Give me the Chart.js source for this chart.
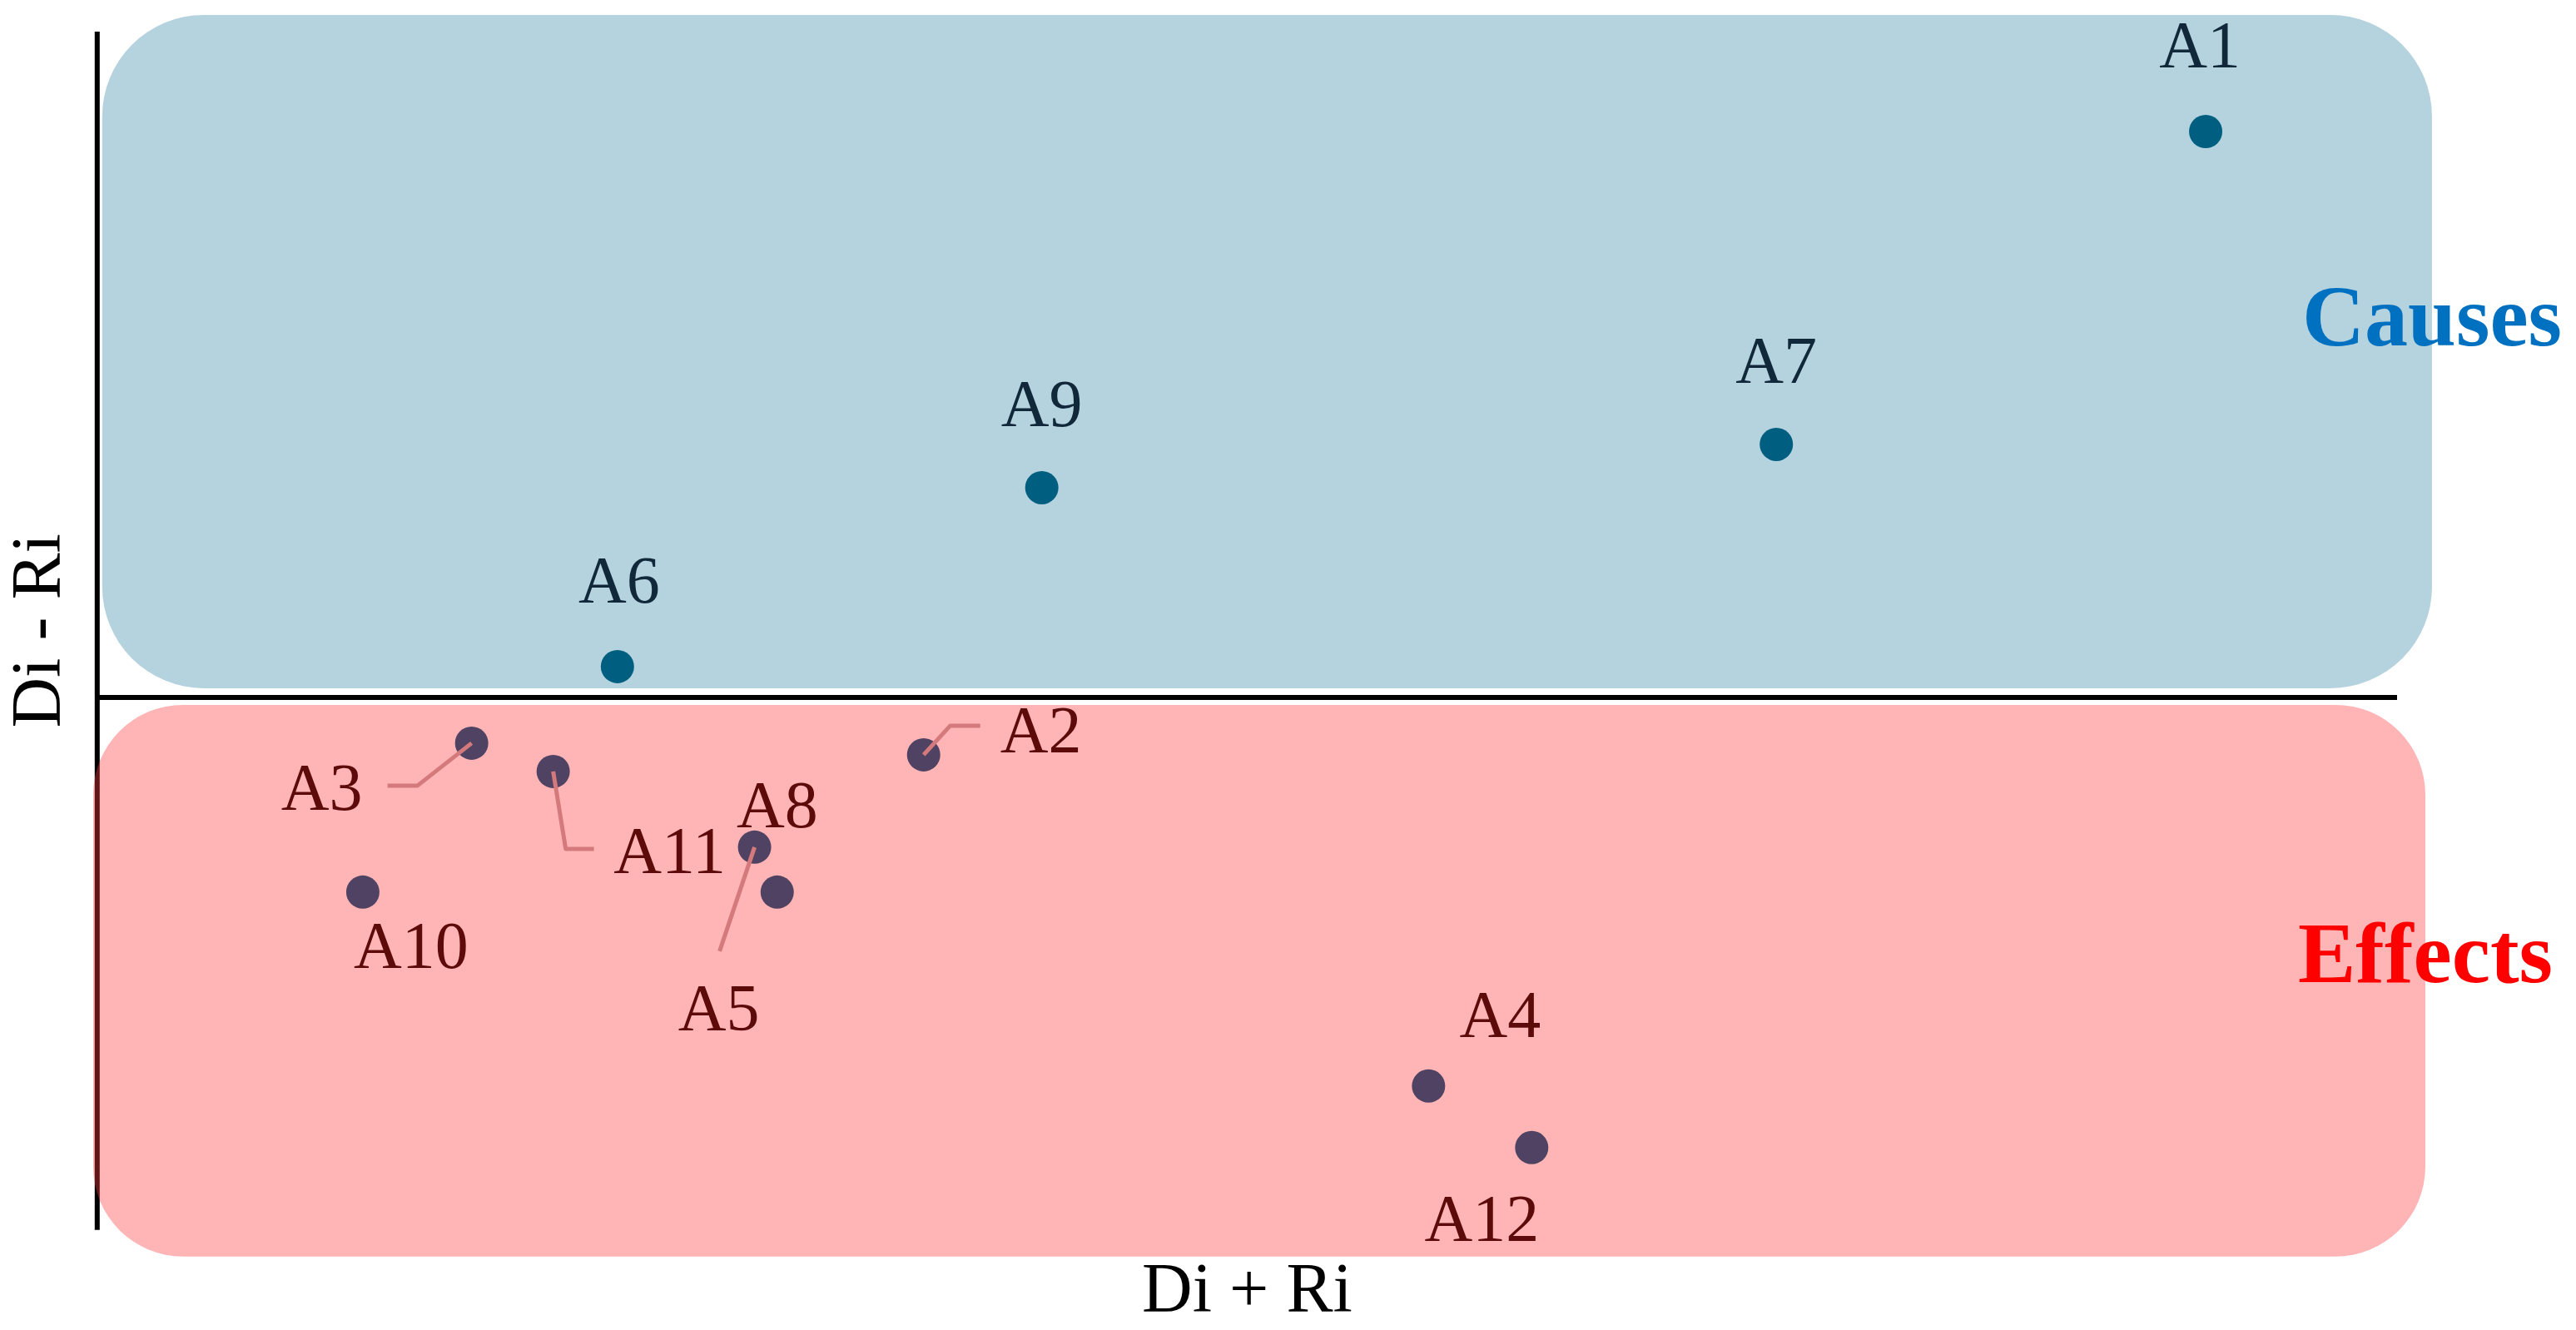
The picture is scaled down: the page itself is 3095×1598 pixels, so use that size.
<!DOCTYPE html>
<html>
<head>
<meta charset="utf-8">
<title>Di + Ri / Di - Ri</title>
<script src="https://cdn.jsdelivr.net/npm/chart.js@4.4.1/dist/chart.umd.min.js"></script>
<style>
    html, body { margin: 0; padding: 0; background: #ffffff; }
    #wrap { width: 3095px; height: 1598px; }
</style>
</head>
<body>
<div id="wrap"><canvas id="dematelChart"></canvas></div>
<script>
// ===== DATA =====
const factors   = ['A1', 'A2', 'A3', 'A4', 'A5', 'A6', 'A7', 'A8', 'A9', 'A10', 'A11', 'A12'];
const diPlusRi  = [9.335, 5.483, 4.125, 7.000, 4.975, 4.563, 8.045, 5.043, 5.838, 3.798, 4.370, 7.310];
const diMinusRi = [0.680, -0.069, -0.055, -0.467, -0.180, 0.037, 0.304, -0.234, 0.252, -0.234, -0.089, -0.541];
const xRange = [3.0, 9.91];
const yRange = [-0.64, 0.80];

// ===== LAYOUT (label offsets in px, relative to the point) =====
const SERIF = '"Liberation Serif", "Times New Roman", serif';
const defaultLabel = { dx: 0, dy: -74 };
const labelLayout = {
    A1:  { dx: -7,  dy: -77 },
    A2:  { dx: 141, dy: -3,  leader: [[32, -35], [68, -35]] },
    A3:  { dx: -180, dy: 80, leader: [[-65, 51], [-101, 51]] },
    A4:  { dx: 86,  dy: -59 },
    A5:  { dx: -43, dy: 220, leader: [[-42, 125]] },
    A6:  { dx: 2,   dy: -77 },
    A8:  { dx: 0,   dy: -78 },
    A10: { dx: 58,  dy: 91 },
    A11: { dx: 140, dy: 122, leader: [[15, 93], [49, 93]] },
    A12: { dx: -60, dy: 112 }
};

const zones = [
    { name: 'Causes',  x0: 3.015, x1: 10.015, y0: 0.011,  y1: 0.820,  radius: 122,
      fill: '#b5d3de', text: '#0070c0', textY: 0.423 },
    { name: 'Effects', x0: 2.988, x1: 9.995,  y0: -0.672, y1: -0.009, radius: 108,
      fill: 'rgba(255, 60, 62, 0.38)', text: '#ff0000', textY: -0.342 }
];

const causeIdx  = factors.map((f, i) => i).filter(i => diMinusRi[i] >= 0);
const effectIdx = factors.map((f, i) => i).filter(i => diMinusRi[i] < 0);
const toPoints = idx => idx.map(i => ({ x: diPlusRi[i], y: diMinusRi[i], name: factors[i] }));

function roundedRect(ctx, l, t, r, b, rad) {
    ctx.beginPath();
    ctx.moveTo(l + rad, t);
    ctx.lineTo(r - rad, t);
    ctx.arcTo(r, t, r, t + rad, rad);
    ctx.lineTo(r, b - rad);
    ctx.arcTo(r, b, r - rad, b, rad);
    ctx.lineTo(l + rad, b);
    ctx.arcTo(l, b, l, b - rad, rad);
    ctx.lineTo(l, t + rad);
    ctx.arcTo(l, t, l + rad, t, rad);
    ctx.closePath();
}

// ===== BACKGROUND ZONES, AXIS LINES, LABELS =====
const dematelPlugin = {
    id: 'dematelZones',
    beforeDatasetsDraw(chart) {
        const { ctx, chartArea, scales: { x, y } } = chart;
        ctx.save();
        ctx.strokeStyle = '#000000';
        ctx.lineWidth = 6;
        ctx.beginPath();
        ctx.moveTo(chartArea.left, chartArea.top);
        ctx.lineTo(chartArea.left, chartArea.bottom);
        const y0 = y.getPixelForValue(0);
        ctx.moveTo(chartArea.left, y0);
        ctx.lineTo(chartArea.right, y0);
        ctx.stroke();

        zones.forEach(z => {
            roundedRect(ctx, x.getPixelForValue(z.x0), y.getPixelForValue(z.y1),
                x.getPixelForValue(z.x1), y.getPixelForValue(z.y0), z.radius);
            ctx.fillStyle = z.fill;
            ctx.fill();
        });
        ctx.restore();
    },
    afterDatasetsDraw(chart) {
        const { ctx, scales: { x, y } } = chart;
        ctx.save();
        chart.data.datasets.forEach((ds, di) => {
            const meta = chart.getDatasetMeta(di);
            meta.data.forEach((pt, i) => {
                const name = ds.data[i].name;
                const lay = labelLayout[name] || defaultLabel;
                if (lay.leader) {
                    ctx.strokeStyle = '#d47a7c';
                    ctx.lineWidth = 5;
                    ctx.lineJoin = 'round';
                    ctx.beginPath();
                    ctx.moveTo(pt.x, pt.y);
                    lay.leader.forEach(p => ctx.lineTo(pt.x + p[0], pt.y + p[1]));
                    ctx.stroke();
                }
                ctx.fillStyle = ds.labelColor;
                ctx.font = '80px ' + SERIF;
                ctx.textAlign = 'center';
                ctx.textBaseline = 'alphabetic';
                ctx.fillText(name, pt.x + lay.dx, pt.y + lay.dy);
            });
        });

        zones.forEach(z => {
            ctx.fillStyle = z.text;
            ctx.font = 'bold 104px ' + SERIF;
            ctx.textAlign = 'center';
            ctx.textBaseline = 'alphabetic';
            ctx.fillText(z.name, x.getPixelForValue(z.x1), y.getPixelForValue(z.textY));
        });
        ctx.restore();
    }
};

// ===== CHART =====
const ctxEl = document.getElementById('dematelChart');
new Chart(ctxEl, {
    type: 'scatter',
    data: {
        datasets: [
            {
                label: 'Causes',
                data: toPoints(causeIdx),
                backgroundColor: '#005f80',
                borderWidth: 0,
                pointRadius: 20,
                labelColor: '#10283a'
            },
            {
                label: 'Effects',
                data: toPoints(effectIdx),
                backgroundColor: '#4f4262',
                borderWidth: 0,
                pointRadius: 20,
                labelColor: '#5c0a0a'
            }
        ]
    },
    options: {
        responsive: true,
        maintainAspectRatio: false,
        animation: false,
        layout: { padding: { top: 38, right: 215, left: 0, bottom: 0 } },
        plugins: {
            legend: { display: false },
            tooltip: { enabled: false }
        },
        scales: {
            x: {
                type: 'linear',
                min: xRange[0],
                max: xRange[1],
                grid: { display: false, drawTicks: false },
                border: { display: false },
                ticks: { display: false },
                title: {
                    display: true,
                    text: 'Di + Ri',
                    color: '#000000',
                    font: { family: SERIF, size: 84, lineHeight: 1.05 },
                    padding: { top: 32, bottom: 0 }
                }
            },
            y: {
                type: 'linear',
                min: yRange[0],
                max: yRange[1],
                grid: { display: false, drawTicks: false },
                border: { display: false },
                ticks: { display: false },
                title: {
                    display: true,
                    text: 'Di - Ri',
                    color: '#000000',
                    font: { family: SERIF, size: 84, lineHeight: 1.2 },
                    padding: { top: 0, bottom: 16 }
                }
            }
        }
    },
    plugins: [dematelPlugin]
});
</script>
</body>
</html>
